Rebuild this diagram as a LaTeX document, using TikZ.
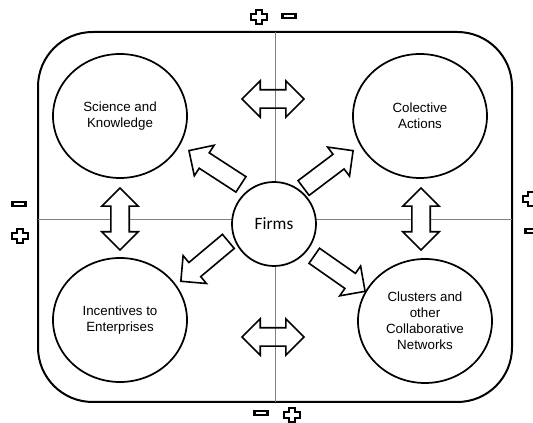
\documentclass[tikz,border=0pt]{standalone}
\usepackage{fontspec}
\setmainfont{Liberation Sans}
\newfontfamily\firmsfont{Carlito}
\usetikzlibrary{shapes.geometric,shapes.arrows}

\begin{document}
\begin{tikzpicture}[x=0.75pt,y=-0.75pt,
    plussign/.pic={\draw[line width=1.6pt,fill=white]
      (-2.6,-7.2) -- (2.6,-7.2) -- (2.6,-2.6) -- (8,-2.6) -- (8,2.6) -- (2.6,2.6)
      -- (2.6,7.2) -- (-2.6,7.2) -- (-2.6,2.6) -- (-8,2.6) -- (-8,-2.6) -- (-2.6,-2.6) -- cycle;},
    minussign/.pic={\draw[line width=1.6pt,fill=white] (-6.5,-2.3) rectangle (6.5,2.3);}]
        \useasboundingbox (0,0) rectangle (533,423);

        \draw[line width=1.5pt, rounded corners=41pt] (38,32) rectangle (512,402);
        \draw[gray, line width=0.7pt] (38,219) -- (512,219);
        \draw[gray, line width=0.7pt] (275,32) -- (275,402);

        \begin{scope}[every node/.style={ellipse, draw, line width=1.3pt, minimum width=100.5pt,
            minimum height=93pt, align=center, font=\fontsize{10}{12}\selectfont}]
          \node (SK) at (120,116) {Science and\\Knowledge};
          \node (CA) at (420,116) {Colective\\Actions};
          \node (IE) at (120,320) {Incentives to\\Enterprises};
          \node (CN) at (425,321) {Clusters and\\other\\Collaborative\\Networks};
        \end{scope}

        \node[circle, draw, fill=white, line width=1.3pt, minimum size=63pt,
          font=\firmsfont\fontsize{13}{15}\selectfont] (F) at (274,224) {Firms};

        \begin{scope}[every node/.style={draw, line width=1.2pt, fill=white, inner sep=6.3pt,
            minimum height=46.5pt}]

          \begin{scope}[every node/.append style={double arrow, double arrow head extend=6.75pt}]
            \node[fill=none]  (D1) at (273,99)  {};
            \node[fill=none]  (D2) at (273,337) {};
            \node[rotate=90]  (D3) at (120,219) {};
            \node[rotate=90]  (D4) at (421,219) {};
          \end{scope}

          \begin{scope}[every node/.append style={single arrow, single arrow head extend=6.75pt, anchor=tip}]
            \node[rotate=147] (A1) at (188,150) {};
            \node[rotate=37]  (A2) at (354,150) {};
            \node[rotate=220] (A3) at (180,282) {};
            \node[rotate=-35] (A4) at (366,292) {};
          \end{scope}
        \end{scope}

        \pic at (259,17)  {plussign};
        \pic at (289,16)  {minussign};
        \pic at (19,204)  {minussign};
        \pic at (20,236)  {plussign};
        \pic at (531,199) {plussign};
        \pic at (532,231) {minussign};
        \pic at (261,413) {minussign};
        \pic at (292,415) {plussign};

      \end{tikzpicture}
\end{document}
